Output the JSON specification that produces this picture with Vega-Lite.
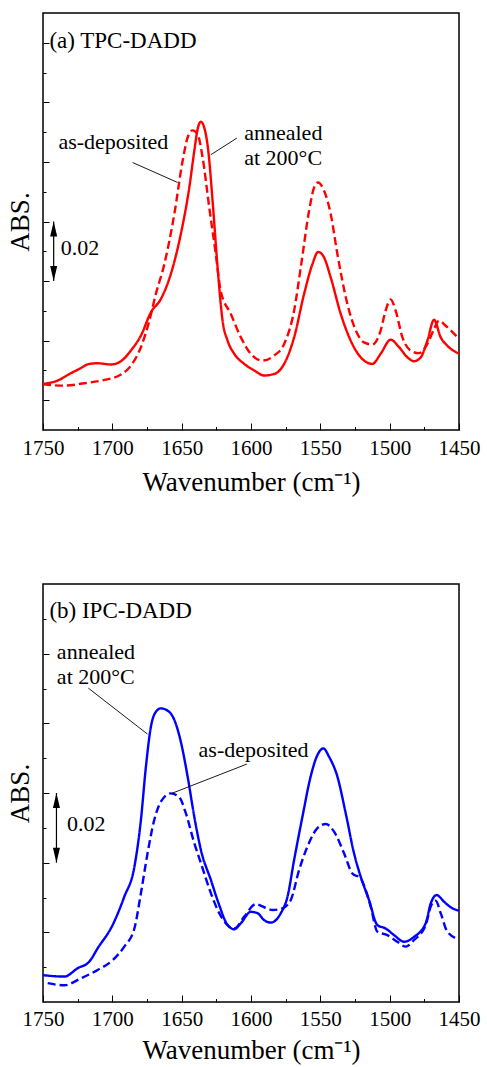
{
  "$schema": "https://vega.github.io/schema/vega-lite/v6.json",
  "padding": {"left": 5, "top": 12, "right": 0, "bottom": 0},
  "spacing": 86,
  "config": {
    "view": {"stroke": "black", "strokeWidth": 1.5},
    "font": "Liberation Serif",
    "axis": {
      "domain": false, "grid": false, "ticks": true, "tickColor": "black", "tickWidth": 1,
      "labelFont": "Liberation Serif", "labelFontSize": 21, "labelColor": "black",
      "titleFont": "Liberation Serif", "titleFontSize": 27, "titleFontWeight": "normal", "titleColor": "black",
      "labelFlush": false, "labelOverlap": false, "labelBound": false
    },
    "text": {"color": "black", "font": "Liberation Serif"}
  },
  "datasets": {
    "spectra": [
      {"p":"a","s":"ann","wn":1750,"v":0.0055},{"p":"a","s":"ann","wn":1739.4,"v":0.0066},{"p":"a","s":"ann","wn":1731,"v":0.0088},{"p":"a","s":"ann","wn":1723.8,"v":0.0105},{"p":"a","s":"ann","wn":1716.6,"v":0.0122},{"p":"a","s":"ann","wn":1710.6,"v":0.0124},{"p":"a","s":"ann","wn":1701,"v":0.0120},{"p":"a","s":"ann","wn":1693.8,"v":0.0131},{"p":"a","s":"ann","wn":1686.6,"v":0.0167},{"p":"a","s":"ann","wn":1679.4,"v":0.0217},{"p":"a","s":"ann","wn":1672.2,"v":0.0295},{"p":"a","s":"ann","wn":1665,"v":0.0340},{"p":"a","s":"ann","wn":1657.8,"v":0.0424},{"p":"a","s":"ann","wn":1650.6,"v":0.0558},{"p":"a","s":"ann","wn":1644.5,"v":0.0714},{"p":"a","s":"ann","wn":1640.9,"v":0.0837},{"p":"a","s":"ann","wn":1638.5,"v":0.0910},{"p":"a","s":"ann","wn":1636.2,"v":0.0935},{"p":"a","s":"ann","wn":1633.7,"v":0.0915},{"p":"a","s":"ann","wn":1630.8,"v":0.0837},{"p":"a","s":"ann","wn":1627.7,"v":0.0669},{"p":"a","s":"ann","wn":1624.1,"v":0.0446},{"p":"a","s":"ann","wn":1620.5,"v":0.0267},{"p":"a","s":"ann","wn":1616.9,"v":0.0200},{"p":"a","s":"ann","wn":1612.1,"v":0.0156},{"p":"a","s":"ann","wn":1604.9,"v":0.0122},{"p":"a","s":"ann","wn":1597.7,"v":0.0100},{"p":"a","s":"ann","wn":1590.5,"v":0.0083},{"p":"a","s":"ann","wn":1583.3,"v":0.0088},{"p":"a","s":"ann","wn":1576.1,"v":0.0122},{"p":"a","s":"ann","wn":1568.9,"v":0.0211},{"p":"a","s":"ann","wn":1561.7,"v":0.0357},{"p":"a","s":"ann","wn":1555.7,"v":0.0457},{"p":"a","s":"ann","wn":1551.6,"v":0.0498},{"p":"a","s":"ann","wn":1547.3,"v":0.0479},{"p":"a","s":"ann","wn":1542.5,"v":0.0412},{"p":"a","s":"ann","wn":1535.3,"v":0.0290},{"p":"a","s":"ann","wn":1528.1,"v":0.0200},{"p":"a","s":"ann","wn":1520.9,"v":0.0144},{"p":"a","s":"ann","wn":1512.5,"v":0.0122},{"p":"a","s":"ann","wn":1506.5,"v":0.0156},{"p":"a","s":"ann","wn":1499.3,"v":0.0203},{"p":"a","s":"ann","wn":1493.2,"v":0.0178},{"p":"a","s":"ann","wn":1487.2,"v":0.0144},{"p":"a","s":"ann","wn":1482.4,"v":0.0131},{"p":"a","s":"ann","wn":1477.6,"v":0.0144},{"p":"a","s":"ann","wn":1472.8,"v":0.0200},{"p":"a","s":"ann","wn":1468,"v":0.0270},{"p":"a","s":"ann","wn":1463.2,"v":0.0211},{"p":"a","s":"ann","wn":1458.4,"v":0.0183},{"p":"a","s":"ann","wn":1450,"v":0.0156},
      {"p":"a","s":"dep","wn":1750,"v":0.0053},{"p":"a","s":"dep","wn":1734.6,"v":0.0049},{"p":"a","s":"dep","wn":1720.2,"v":0.0057},{"p":"a","s":"dep","wn":1705.8,"v":0.0068},{"p":"a","s":"dep","wn":1693.8,"v":0.0086},{"p":"a","s":"dep","wn":1686.6,"v":0.0116},{"p":"a","s":"dep","wn":1679.4,"v":0.0178},{"p":"a","s":"dep","wn":1673.3,"v":0.0267},{"p":"a","s":"dep","wn":1668.6,"v":0.0357},{"p":"a","s":"dep","wn":1662.5,"v":0.0457},{"p":"a","s":"dep","wn":1655.3,"v":0.0625},{"p":"a","s":"dep","wn":1649.3,"v":0.0804},{"p":"a","s":"dep","wn":1645.7,"v":0.0882},{"p":"a","s":"dep","wn":1642.1,"v":0.0906},{"p":"a","s":"dep","wn":1638.5,"v":0.0893},{"p":"a","s":"dep","wn":1634.9,"v":0.0815},{"p":"a","s":"dep","wn":1630.1,"v":0.0647},{"p":"a","s":"dep","wn":1625.4,"v":0.0491},{"p":"a","s":"dep","wn":1621.9,"v":0.0368},{"p":"a","s":"dep","wn":1614.6,"v":0.0290},{"p":"a","s":"dep","wn":1607.3,"v":0.0211},{"p":"a","s":"dep","wn":1600.2,"v":0.0156},{"p":"a","s":"dep","wn":1591.7,"v":0.0133},{"p":"a","s":"dep","wn":1583.3,"v":0.0150},{"p":"a","s":"dep","wn":1576.1,"v":0.0189},{"p":"a","s":"dep","wn":1568.9,"v":0.0301},{"p":"a","s":"dep","wn":1564.1,"v":0.0446},{"p":"a","s":"dep","wn":1558.1,"v":0.0636},{"p":"a","s":"dep","wn":1554.5,"v":0.0714},{"p":"a","s":"dep","wn":1551.6,"v":0.0731},{"p":"a","s":"dep","wn":1547.3,"v":0.0703},{"p":"a","s":"dep","wn":1542.5,"v":0.0625},{"p":"a","s":"dep","wn":1537.7,"v":0.0491},{"p":"a","s":"dep","wn":1530.5,"v":0.0323},{"p":"a","s":"dep","wn":1523.3,"v":0.0223},{"p":"a","s":"dep","wn":1518.5,"v":0.0194},{"p":"a","s":"dep","wn":1512.5,"v":0.0187},{"p":"a","s":"dep","wn":1506.5,"v":0.0234},{"p":"a","s":"dep","wn":1502.9,"v":0.0301},{"p":"a","s":"dep","wn":1499.3,"v":0.0338},{"p":"a","s":"dep","wn":1495.7,"v":0.0301},{"p":"a","s":"dep","wn":1490.8,"v":0.0211},{"p":"a","s":"dep","wn":1484.9,"v":0.0167},{"p":"a","s":"dep","wn":1478.8,"v":0.0158},{"p":"a","s":"dep","wn":1472.8,"v":0.0189},{"p":"a","s":"dep","wn":1468,"v":0.0239},{"p":"a","s":"dep","wn":1464.4,"v":0.0267},{"p":"a","s":"dep","wn":1459.6,"v":0.0250},{"p":"a","s":"dep","wn":1450,"v":0.0206},
      {"p":"b","s":"ann","wn":1750,"v":-0.0123},{"p":"b","s":"ann","wn":1734.6,"v":-0.0127},{"p":"b","s":"ann","wn":1725,"v":-0.0103},{"p":"b","s":"ann","wn":1716.6,"v":-0.0084},{"p":"b","s":"ann","wn":1710.6,"v":-0.0046},{"p":"b","s":"ann","wn":1699.8,"v":0.0021},{"p":"b","s":"ann","wn":1691.4,"v":0.0102},{"p":"b","s":"ann","wn":1684.1,"v":0.0188},{"p":"b","s":"ann","wn":1679.4,"v":0.0322},{"p":"b","s":"ann","wn":1675.8,"v":0.0475},{"p":"b","s":"ann","wn":1672.2,"v":0.0590},{"p":"b","s":"ann","wn":1668.6,"v":0.0633},{"p":"b","s":"ann","wn":1665,"v":0.0643},{"p":"b","s":"ann","wn":1659,"v":0.0633},{"p":"b","s":"ann","wn":1655.3,"v":0.0610},{"p":"b","s":"ann","wn":1650.6,"v":0.0547},{"p":"b","s":"ann","wn":1645.7,"v":0.0447},{"p":"b","s":"ann","wn":1640.9,"v":0.0332},{"p":"b","s":"ann","wn":1636.1,"v":0.0236},{"p":"b","s":"ann","wn":1628.9,"v":0.0150},{"p":"b","s":"ann","wn":1622.9,"v":0.0078},{"p":"b","s":"ann","wn":1616.9,"v":0.0021},{"p":"b","s":"ann","wn":1612.1,"v":0.0009},{"p":"b","s":"ann","wn":1607.3,"v":0.0026},{"p":"b","s":"ann","wn":1600.2,"v":0.0059},{"p":"b","s":"ann","wn":1595.3,"v":0.0055},{"p":"b","s":"ann","wn":1590.5,"v":0.0035},{"p":"b","s":"ann","wn":1585.7,"v":0.0028},{"p":"b","s":"ann","wn":1578.5,"v":0.0055},{"p":"b","s":"ann","wn":1573.7,"v":0.0102},{"p":"b","s":"ann","wn":1568.9,"v":0.0208},{"p":"b","s":"ann","wn":1562.9,"v":0.0332},{"p":"b","s":"ann","wn":1557,"v":0.0447},{"p":"b","s":"ann","wn":1552.1,"v":0.0509},{"p":"b","s":"ann","wn":1547.8,"v":0.0528},{"p":"b","s":"ann","wn":1543.7,"v":0.0504},{"p":"b","s":"ann","wn":1537.7,"v":0.0447},{"p":"b","s":"ann","wn":1531.7,"v":0.0342},{"p":"b","s":"ann","wn":1525.7,"v":0.0227},{"p":"b","s":"ann","wn":1520.9,"v":0.0160},{"p":"b","s":"ann","wn":1514.9,"v":0.0093},{"p":"b","s":"ann","wn":1508.9,"v":0.0021},{"p":"b","s":"ann","wn":1502.9,"v":0.0011},{"p":"b","s":"ann","wn":1496.8,"v":-0.0008},{"p":"b","s":"ann","wn":1489.6,"v":-0.0027},{"p":"b","s":"ann","wn":1482.4,"v":-0.0013},{"p":"b","s":"ann","wn":1474,"v":0.0026},{"p":"b","s":"ann","wn":1470.4,"v":0.0083},{"p":"b","s":"ann","wn":1466.1,"v":0.0107},{"p":"b","s":"ann","wn":1460.8,"v":0.0088},{"p":"b","s":"ann","wn":1456,"v":0.0072},{"p":"b","s":"ann","wn":1450,"v":0.0062},
      {"p":"b","s":"dep","wn":1746.6,"v":-0.0146},{"p":"b","s":"dep","wn":1734.6,"v":-0.0152},{"p":"b","s":"dep","wn":1722.6,"v":-0.0132},{"p":"b","s":"dep","wn":1710.6,"v":-0.0108},{"p":"b","s":"dep","wn":1699.8,"v":-0.0080},{"p":"b","s":"dep","wn":1691.4,"v":-0.0041},{"p":"b","s":"dep","wn":1684.1,"v":0.0011},{"p":"b","s":"dep","wn":1679.4,"v":0.0112},{"p":"b","s":"dep","wn":1674.6,"v":0.0227},{"p":"b","s":"dep","wn":1669.8,"v":0.0322},{"p":"b","s":"dep","wn":1665,"v":0.0375},{"p":"b","s":"dep","wn":1657.8,"v":0.0399},{"p":"b","s":"dep","wn":1651.7,"v":0.0388},{"p":"b","s":"dep","wn":1647,"v":0.0342},{"p":"b","s":"dep","wn":1640.9,"v":0.0256},{"p":"b","s":"dep","wn":1636.1,"v":0.0198},{"p":"b","s":"dep","wn":1628.9,"v":0.0112},{"p":"b","s":"dep","wn":1622.9,"v":0.0055},{"p":"b","s":"dep","wn":1616.9,"v":0.0021},{"p":"b","s":"dep","wn":1612.1,"v":0.0011},{"p":"b","s":"dep","wn":1604.9,"v":0.0045},{"p":"b","s":"dep","wn":1596.5,"v":0.0081},{"p":"b","s":"dep","wn":1590.5,"v":0.0072},{"p":"b","s":"dep","wn":1584.5,"v":0.0064},{"p":"b","s":"dep","wn":1577.3,"v":0.0069},{"p":"b","s":"dep","wn":1571.3,"v":0.0093},{"p":"b","s":"dep","wn":1565.3,"v":0.0179},{"p":"b","s":"dep","wn":1559.3,"v":0.0246},{"p":"b","s":"dep","wn":1552.1,"v":0.0299},{"p":"b","s":"dep","wn":1546.1,"v":0.0311},{"p":"b","s":"dep","wn":1540.1,"v":0.0289},{"p":"b","s":"dep","wn":1532.9,"v":0.0227},{"p":"b","s":"dep","wn":1526.9,"v":0.0169},{"p":"b","s":"dep","wn":1520.9,"v":0.0155},{"p":"b","s":"dep","wn":1517.3,"v":0.0121},{"p":"b","s":"dep","wn":1513.7,"v":0.0074},{"p":"b","s":"dep","wn":1508.9,"v":0.0002},{"p":"b","s":"dep","wn":1501.7,"v":-0.0008},{"p":"b","s":"dep","wn":1494.5,"v":-0.0027},{"p":"b","s":"dep","wn":1488.5,"v":-0.0041},{"p":"b","s":"dep","wn":1482.4,"v":-0.0022},{"p":"b","s":"dep","wn":1474,"v":0.0021},{"p":"b","s":"dep","wn":1470.4,"v":0.0074},{"p":"b","s":"dep","wn":1466.8,"v":0.0091},{"p":"b","s":"dep","wn":1463.2,"v":0.0055},{"p":"b","s":"dep","wn":1458.4,"v":0.0002},{"p":"b","s":"dep","wn":1450,"v":-0.0020}
    ],
    "labels": [
      {"p":"a","k":"title","t":"(a) TPC-DADD","wn":1745.4,"v":0.1183},
      {"p":"a","k":"note","t":"as-deposited","wn":1738.9,"v":0.0845},
      {"p":"a","k":"note","t":"annealed","wn":1604.9,"v":0.0872},
      {"p":"a","k":"note","t":"at 200°C","wn":1604.9,"v":0.0791},
      {"p":"a","k":"note","t":"0.02","wn":1737.2,"v":0.0488},
      {"p":"b","k":"title","t":"(b) IPC-DADD","wn":1745.4,"v":0.0902},
      {"p":"b","k":"note","t":"annealed","wn":1740,"v":0.0784},
      {"p":"b","k":"note","t":"at 200°C","wn":1740,"v":0.0713},
      {"p":"b","k":"note","t":"as-deposited","wn":1637.8,"v":0.0502},
      {"p":"b","k":"note","t":"0.02","wn":1732.7,"v":0.0292}
    ],
    "leaders": [
      {"p":"a","wn":1685.4,"v":0.0798,"wn2":1652.9,"v2":0.0731},
      {"p":"a","wn":1610.2,"v":0.0880,"wn2":1629.0,"v2":0.0824},
      {"p":"b","wn":1717.3,"v":0.0701,"wn2":1674.6,"v2":0.0569},
      {"p":"b","wn":1603.0,"v":0.0483,"wn2":1657.1,"v2":0.0399}
    ],
    "shafts": [
      {"p":"a","wn":1742.3,"v":0.04,"v2":0.06},
      {"p":"b","wn":1740.3,"v":0.02,"v2":0.04}
    ],
    "heads": [
      {"p":"a","d":"up","wn":1742.3,"v":0.06},{"p":"a","d":"down","wn":1742.3,"v":0.04},
      {"p":"b","d":"up","wn":1740.3,"v":0.04},{"p":"b","d":"down","wn":1740.3,"v":0.02}
    ]
  },
  "vconcat": [
    {
      "width": 416, "height": 417,
      "encoding": {
        "x": {"field": "wn", "type": "quantitative", "scale": {"domain": [1450, 1750], "reverse": true},
          "axis": {"values": [1750,1725,1700,1675,1650,1625,1600,1575,1550,1525,1500,1475,1450], "format": "d",
            "tickSize": {"condition": {"test": "datum.value % 50 == 0", "value": -7}, "value": -3.5},
            "labelExpr": "datum.value % 50 == 0 ? datum.label : ''", "labelPadding": 14, "titlePadding": 8,
            "title": "Wavenumber (cm⁻¹)"}},
        "y": {"field": "v", "type": "quantitative", "scale": {"domain": [-0.01, 0.13]},
          "axis": {"values": [0,0.01,0.02,0.03,0.04,0.05,0.06,0.07,0.08,0.09,0.1,0.11,0.12], "labels": false,
            "tickSize": {"condition": {"test": "abs(round(datum.value*100)) % 2 == 0", "value": -6}, "value": -3},
            "titlePadding": 8, "title": "ABS."}}
      },
      "layer": [
        {"data": {"name": "spectra"}, "transform": [{"filter": "datum.p == 'a'"}],
          "mark": {"type": "line", "color": "#ff0000", "strokeWidth": 2.4, "interpolate": "monotone"},
          "encoding": {"strokeDash": {"field": "s", "type": "nominal", "scale": {"domain": ["ann", "dep"], "range": [[1, 0], [8, 4]]}, "legend": null},
            "order": {"field": "wn", "sort": "descending"}}},
        {"data": {"name": "leaders"}, "transform": [{"filter": "datum.p == 'a'"}],
          "mark": {"type": "rule", "color": "black", "strokeWidth": 0.9},
          "encoding": {"x2": {"field": "wn2"}, "y2": {"field": "v2"}}},
        {"data": {"name": "shafts"}, "transform": [{"filter": "datum.p == 'a'"}],
          "mark": {"type": "rule", "color": "black", "strokeWidth": 1.2},
          "encoding": {"y2": {"field": "v2"}}},
        {"data": {"name": "heads"}, "transform": [{"filter": "datum.p == 'a'"}],
          "mark": {"type": "point", "filled": true, "color": "black", "opacity": 1, "size": 225, "strokeWidth": 0},
          "encoding": {"shape": {"field": "d", "type": "nominal", "scale": {"domain": ["up", "down"], "range": ["M0,0L-0.47,2L0.47,2Z", "M0,0L-0.47,-2L0.47,-2Z"]}, "legend": null}}},
        {"data": {"name": "labels"}, "transform": [{"filter": "datum.p == 'a' && datum.k == 'title'"}],
          "mark": {"type": "text", "align": "left", "baseline": "alphabetic", "fontSize": 23, "font": "Liberation Serif"},
          "encoding": {"text": {"field": "t"}}},
        {"data": {"name": "labels"}, "transform": [{"filter": "datum.p == 'a' && datum.k == 'note'"}],
          "mark": {"type": "text", "align": "left", "baseline": "alphabetic", "fontSize": 22, "font": "Liberation Serif"},
          "encoding": {"text": {"field": "t"}}}
      ]
    },
    {
      "width": 416, "height": 418,
      "encoding": {
        "x": {"field": "wn", "type": "quantitative", "scale": {"domain": [1450, 1750], "reverse": true},
          "axis": {"values": [1750,1725,1700,1675,1650,1625,1600,1575,1550,1525,1500,1475,1450], "format": "d",
            "tickSize": {"condition": {"test": "datum.value % 50 == 0", "value": -7}, "value": -3.5},
            "labelExpr": "datum.value % 50 == 0 ? datum.label : ''", "labelPadding": 13, "titlePadding": 5,
            "title": "Wavenumber (cm⁻¹)"}},
        "y": {"field": "v", "type": "quantitative", "scale": {"domain": [-0.02, 0.10]},
          "axis": {"values": [-0.01,0,0.01,0.02,0.03,0.04,0.05,0.06,0.07,0.08,0.09], "labels": false,
            "tickSize": {"condition": {"test": "abs(round(datum.value*100)) % 2 == 0", "value": -6}, "value": -3},
            "titlePadding": 8, "title": "ABS."}}
      },
      "layer": [
        {"data": {"name": "spectra"}, "transform": [{"filter": "datum.p == 'b'"}],
          "mark": {"type": "line", "color": "#0000ff", "strokeWidth": 2.4, "interpolate": "monotone"},
          "encoding": {"strokeDash": {"field": "s", "type": "nominal", "scale": {"domain": ["ann", "dep"], "range": [[1, 0], [8, 4]]}, "legend": null},
            "order": {"field": "wn", "sort": "descending"}}},
        {"data": {"name": "leaders"}, "transform": [{"filter": "datum.p == 'b'"}],
          "mark": {"type": "rule", "color": "black", "strokeWidth": 0.9},
          "encoding": {"x2": {"field": "wn2"}, "y2": {"field": "v2"}}},
        {"data": {"name": "shafts"}, "transform": [{"filter": "datum.p == 'b'"}],
          "mark": {"type": "rule", "color": "black", "strokeWidth": 1.2},
          "encoding": {"y2": {"field": "v2"}}},
        {"data": {"name": "heads"}, "transform": [{"filter": "datum.p == 'b'"}],
          "mark": {"type": "point", "filled": true, "color": "black", "opacity": 1, "size": 225, "strokeWidth": 0},
          "encoding": {"shape": {"field": "d", "type": "nominal", "scale": {"domain": ["up", "down"], "range": ["M0,0L-0.47,2L0.47,2Z", "M0,0L-0.47,-2L0.47,-2Z"]}, "legend": null}}},
        {"data": {"name": "labels"}, "transform": [{"filter": "datum.p == 'b' && datum.k == 'title'"}],
          "mark": {"type": "text", "align": "left", "baseline": "alphabetic", "fontSize": 23, "font": "Liberation Serif"},
          "encoding": {"text": {"field": "t"}}},
        {"data": {"name": "labels"}, "transform": [{"filter": "datum.p == 'b' && datum.k == 'note'"}],
          "mark": {"type": "text", "align": "left", "baseline": "alphabetic", "fontSize": 22, "font": "Liberation Serif"},
          "encoding": {"text": {"field": "t"}}}
      ]
    }
  ]
}
